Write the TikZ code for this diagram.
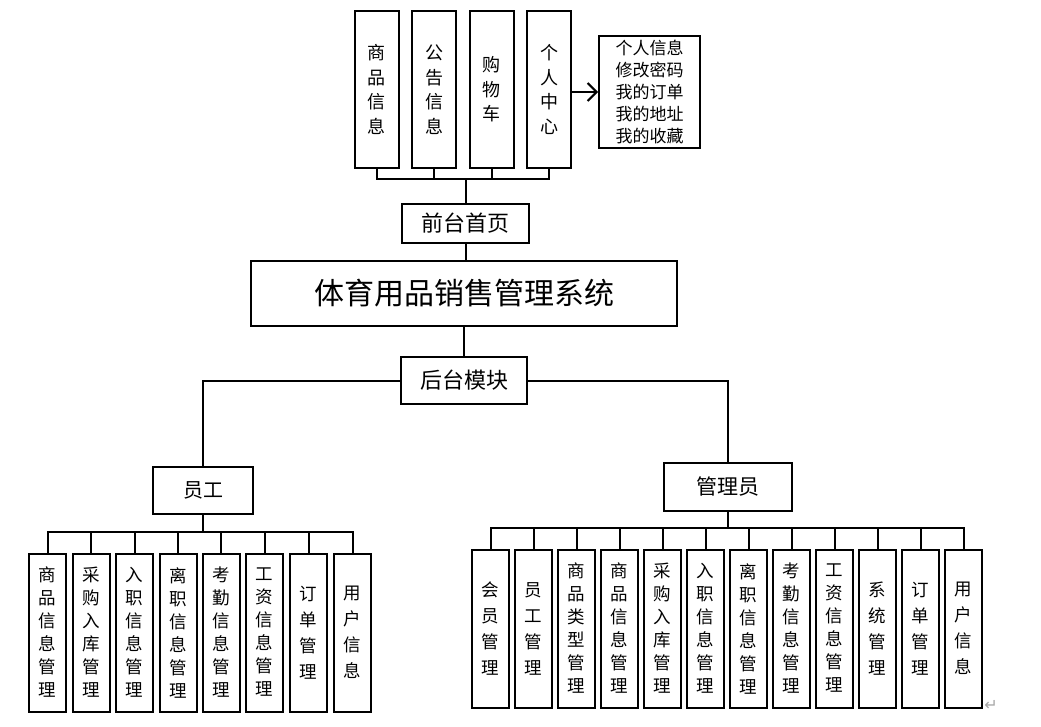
\documentclass[tikz,border=0pt]{standalone}
\usepackage{fontspec}
\setmainfont{Noto Sans CJK SC}
\newfontfamily\symfont{DejaVu Sans}
\usetikzlibrary{arrows.meta}
\tikzset{
  box/.style={draw, line width=2pt, inner sep=0pt, align=center},
  vbox/.style={box, minimum width=37pt, minimum height=158pt},
  tbox/.style={box, minimum width=44pt, minimum height=157pt},
  sixc/.style={font=\fontsize{17.5}{23}\selectfont},
  fourc/.style={font=\fontsize{17.5}{26}\selectfont},
  topc/.style={font=\fontsize{18}{24.5}\selectfont},
  conn/.style={line width=2pt},
}
\begin{document}
\begin{tikzpicture}[x=1pt,y=-1pt]
\useasboundingbox (0,0) rectangle (1041,726);
% top
\node[tbox,topc] (t1) at (376.5,89.5) {商\\品\\信\\息};
\node[tbox,topc] (t2) at (434,89.5) {公\\告\\信\\息};
\node[tbox,topc] (t3) at (491.5,89.5) {购\\物\\车};
\node[tbox,topc] (t4) at (549,89.5) {个\\人\\中\\心};
\node[box,minimum width=101pt,minimum height=112pt,font=\fontsize{17}{22}\selectfont] (side) at (649.5,92) {个人信息\\修改密码\\我的订单\\我的地址\\我的收藏};
\draw[conn,-{Straight Barb[length=9pt,width=18pt]}] (t4.east|-side.west) -- (side.west);
\node[box,minimum width=127pt,minimum height=39pt,font=\fontsize{22}{24}\selectfont] (front) at (465.5,223.5) {前台首页};
\foreach \t in {t1,t2,t3,t4} \draw[conn] (front.north) -- ++(0,-24) -| (\t.south);
\node[box,minimum width=426pt,minimum height=65pt,font=\fontsize{30}{32}\selectfont] (main) at (464,293.5) {体育用品销售管理系统};
\draw[conn] (front.south) -- (front.south|-main.north);
\node[box,minimum width=126pt,minimum height=47pt,font=\fontsize{22}{24}\selectfont] (back) at (464,380.5) {后台模块};
\draw[conn] (main.south) -- (back.north);
\node[box,minimum width=100pt,minimum height=47pt,font=\fontsize{20}{22}\selectfont] (staff) at (203,490.5) {员工};
\node[box,minimum width=128pt,minimum height=48pt,font=\fontsize{21}{23}\selectfont] (admin) at (728,487) {管理员};
\draw[conn] (back.west) -| (staff.north);
\draw[conn] (back.east) -| (admin.north);
% staff children
\node[vbox,sixc] (s1) at (47.5,632.5) {商\\品\\信\\息\\管\\理};
\node[vbox,sixc] (s2) at (91,632.5) {采\\购\\入\\库\\管\\理};
\node[vbox,sixc] (s3) at (134.5,632.5) {入\\职\\信\\息\\管\\理};
\node[vbox,sixc] (s4) at (178,632.5) {离\\职\\信\\息\\管\\理};
\node[vbox,sixc] (s5) at (221,632.5) {考\\勤\\信\\息\\管\\理};
\node[vbox,sixc] (s6) at (264.5,632.5) {工\\资\\信\\息\\管\\理};
\node[vbox,fourc] (s7) at (308.5,632.5) {订\\单\\管\\理};
\node[vbox,fourc] (s8) at (352.5,632.5) {用\\户\\信\\息};
\foreach \s in {s1,s2,s3,s4,s5,s6,s7,s8} \draw[conn] (staff.south) -- ++(0,17) -| (\s.north);
% admin children
\node[vbox,fourc] (a1) at (490.5,628.5) {会\\员\\管\\理};
\node[vbox,fourc] (a2) at (533.5,628.5) {员\\工\\管\\理};
\node[vbox,sixc] (a3) at (576.5,628.5) {商\\品\\类\\型\\管\\理};
\node[vbox,sixc] (a4) at (619.5,628.5) {商\\品\\信\\息\\管\\理};
\node[vbox,sixc] (a5) at (662.5,628.5) {采\\购\\入\\库\\管\\理};
\node[vbox,sixc] (a6) at (705.5,628.5) {入\\职\\信\\息\\管\\理};
\node[vbox,sixc] (a7) at (748.5,628.5) {离\\职\\信\\息\\管\\理};
\node[vbox,sixc] (a8) at (791.5,628.5) {考\\勤\\信\\息\\管\\理};
\node[vbox,sixc] (a9) at (834.5,628.5) {工\\资\\信\\息\\管\\理};
\node[vbox,fourc] (a10) at (877.5,628.5) {系\\统\\管\\理};
\node[vbox,fourc] (a11) at (920.5,628.5) {订\\单\\管\\理};
\node[vbox,fourc] (a12) at (963.5,628.5) {用\\户\\信\\息};
\foreach \a in {a1,a2,a3,a4,a5,a6,a7,a8,a9,a10,a11,a12} \draw[conn] (admin.south) -- ++(0,16) -| (\a.north);
\node[text=gray!70, font=\symfont\fontsize{16}{16}\selectfont, inner sep=0pt] (ret) at (991,705) {↵};
\end{tikzpicture}
\end{document}
